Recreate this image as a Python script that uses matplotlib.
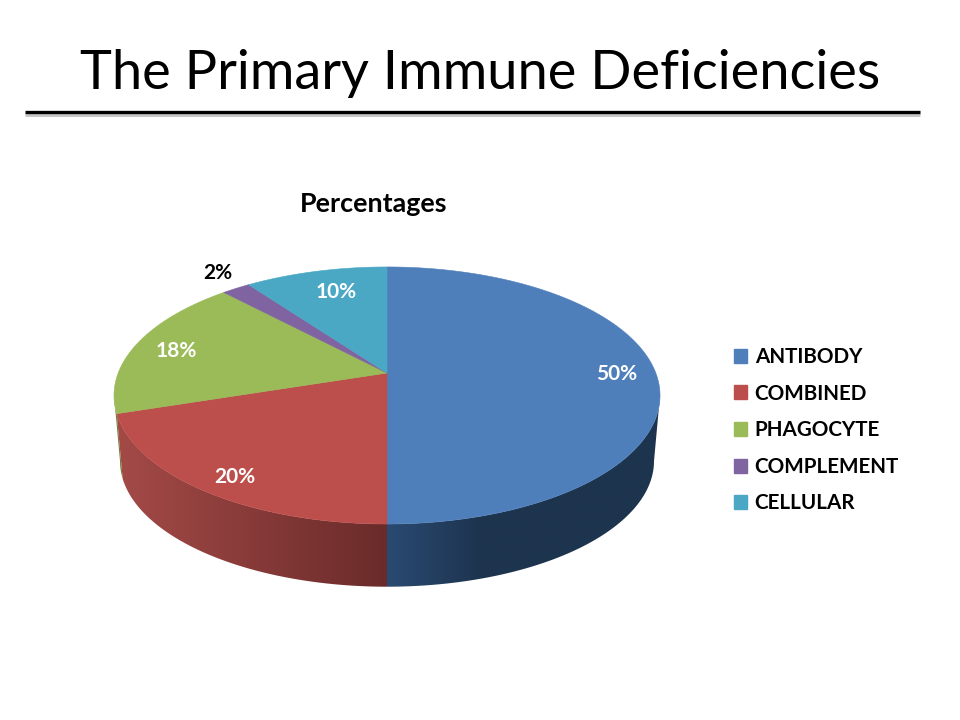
import numpy as np
import matplotlib
matplotlib.use('Agg')
import matplotlib.pyplot as plt
from matplotlib.colors import to_rgb
from matplotlib.patches import Patch, Polygon

plt.rcParams['font.family'] = ['Lato', 'DejaVu Sans']

TITLE = 'The Primary Immune Deficiencies'
CHART_TITLE = 'Percentages'
categories = ['ANTIBODY', 'COMBINED', 'PHAGOCYTE', 'COMPLEMENT', 'CELLULAR']
percentages = [50, 20, 18, 2, 10]
colors = ['#4e7fbb', '#bc4f4c', '#9bbb59', '#8064a2', '#4aa8c4']
wall_near = ['#2a4a72', '#6a2b2a', '#6f7f3a', '#5a4674', '#2f7488']
wall_far = ['#1d344e', '#a34a47', '#6f7f3a', '#5a4674', '#2f7488']
wall_reach = [0.35, 1.0, 1.0, 1.0, 1.0]
label_xy = [(617, 374), (235, 477), (176, 351), (218, 273), (336, 292)]
label_colors = ['white', 'white', 'white', 'black', 'white']

# pie geometry in pixels, k is the perspective of the top face
CX, CY = 387, 373
A, B, K = 268.8, 124.6, 0.175
DEPTH, SHRINK = 66, 0.978
# the rim turns away from the viewer here, walls are seen only between these
WALL_LO = 90 + np.degrees(np.arcsin(K))
WALL_HI = 360 - WALL_LO


def project(phi, bottom=False):
    """phi in degrees, clockwise from the top of the pie."""
    u, v = np.sin(np.radians(phi)), np.cos(np.radians(phi))
    w = 1 + K * v
    s = SHRINK if bottom else 1.0
    dy = DEPTH if bottom else 0
    return CX + s * A * u / w, CY + dy - s * B * v / w


def draw_wall(ax, i, lo, hi):
    """Side wall of slice i, shaded by the distance from the pie's centre line."""
    phi = np.linspace(lo, hi, 200)
    xt, yt = project(phi)
    xb, yb = project(phi, True)
    xs = np.r_[xt, xb[::-1]]
    ys = np.r_[yt, yb[::-1]]
    grid = np.linspace(xs.min(), xs.max(), 256)
    t = np.clip(np.abs(grid - CX) / (A * SHRINK + 5) / wall_reach[i], 0, 1)[:, None]
    near, far = np.array(to_rgb(wall_near[i])), np.array(to_rgb(wall_far[i]))
    rgb = (near + (far - near) * t)[None, :, :]
    im = ax.imshow(rgb, extent=(xs.min(), xs.max(), ys.max(), ys.min()), aspect='auto',
                   interpolation='bilinear', zorder=0.5)
    outline = Polygon(np.c_[xs, ys], closed=True, transform=ax.transData)
    im.set_clip_path(outline)


fig = plt.figure(figsize=(9.6, 7.2), dpi=100)
ax = fig.add_axes([0, 0, 1, 1])
ax.axis('off')

ends = np.cumsum(percentages) / sum(percentages) * 360
starts = np.concatenate(([0], ends[:-1]))

# side walls first, only the front of the pie can be seen
for i in [0, 2, 1]:
    lo, hi = max(starts[i], WALL_LO), min(ends[i], WALL_HI)
    if hi > lo:
        draw_wall(ax, i, lo, hi)

# top face
for i in range(len(percentages)):
    phi = np.linspace(starts[i], ends[i], 200)
    x, y = project(phi)
    ax.fill(np.r_[CX, x], np.r_[CY, y], color=colors[i], lw=0.4)

ax.set_xlim(0, 960)
ax.set_ylim(720, 0)

for i, (lx, ly) in enumerate(label_xy):
    ax.text(lx, ly, f'{percentages[i]}%', color=label_colors[i], fontsize=15,
            fontweight='bold', ha='center', va='center')

# heading and the rule below it
ax.text(480, 73, TITLE, fontsize=39, ha='center', va='center', color='black')
ax.plot([25, 920], [114.5, 114.5], color='#c4c4c4', lw=2, solid_capstyle='butt')
ax.plot([25, 920], [112, 112], color='black', lw=2.4, solid_capstyle='butt')
ax.text(373.5, 204, CHART_TITLE, fontsize=19.4, fontweight='bold', ha='center', va='center')

handles = [Patch(color=c, label=n) for c, n in zip(colors, categories)]
ax.legend(handles=handles, loc='upper left', bbox_to_anchor=(715, 328.5),
          bbox_transform=ax.transData, frameon=False, borderpad=0.4,
          handlelength=0.66, handleheight=0.66, handletextpad=0.36,
          labelspacing=0.8, prop={'size': 14.9, 'weight': 'bold'})

fig.savefig('out.png', dpi=100)
